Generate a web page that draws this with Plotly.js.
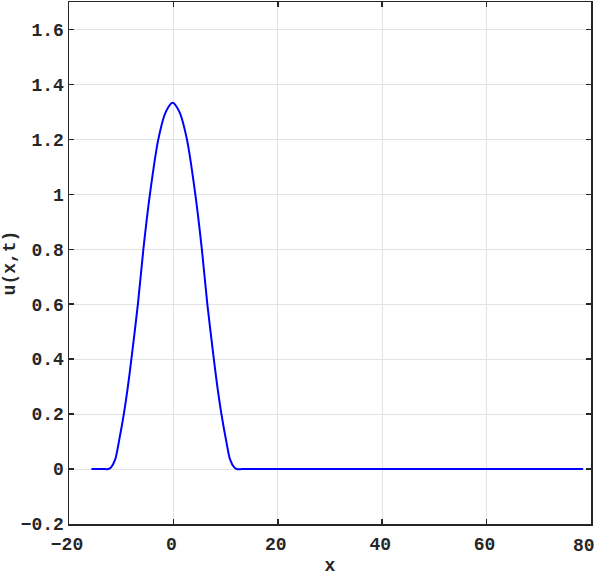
<!DOCTYPE html>
<html>
<head>
<meta charset="utf-8">
<script src="https://cdn.plot.ly/plotly-3.0.1.min.js"></script>
<style>
  html, body { margin: 0; padding: 0; background: white; }
  #plot { width: 598px; height: 576px; }
</style>
</head>
<body>
<div id="plot"></div>
<script>
/* u(x,t) profile, values */

const xVals = [-15.7, -13.5, -12.45, -11.95, -11.15, -10.37, -9.5, -8.72, -8.05, -6.8, -5.75,
  -4.5, -2.89, -1.45, -0.15,
  1.15, 2.59, 4.2, 5.45, 6.5, 7.75, 8.42, 9.2, 10.07, 10.85, 11.65, 12.15, 13.3, 78.5];
const uVals = [0, 0, 0, 0.006, 0.035, 0.107, 0.2, 0.3, 0.4, 0.6, 0.8,
  1.0, 1.2, 1.3, 1.333,
  1.3, 1.2, 1.0, 0.8, 0.6, 0.4, 0.3, 0.2, 0.107, 0.035, 0.006, 0, 0, 0];

// x tick labels; the last one is drawn as an annotation so it can be pulled inside the page
const xTickVals = [-20, 0, 20, 40, 60, 80];
const xTickText = ['\u221220', '0', '20', '40', '60', ''];
const lastTickText = '80';

const axisFont = {
  family: '"Liberation Mono", "Courier New", monospace',
  size: 18,
  color: '#262626',
  weight: 'bold',
};

let trace = {
  x: xVals,
  y: uVals,
  type: 'scatter',
  mode: 'lines',
  line: {
    color: '#0000ff',
    width: 2,
    shape: 'spline',
    smoothing: 0.8,
  },
  hoverinfo: 'skip',
};

let layout = {
  width: 598,
  height: 576,
  showlegend: false,
  plot_bgcolor: 'white',
  paper_bgcolor: 'white',
  margin: { l: 69, r: 7, t: 2, b: 52 },
  font: axisFont,
  xaxis: {
    range: [-20, 80],
    tickmode: 'array',
    tickvals: xTickVals,
    ticktext: xTickText,
    ticks: 'inside',
    ticklen: 5,
    tickwidth: 1.5,
    tickcolor: '#262626',
    showline: true,
    linecolor: '#262626',
    linewidth: 1.5,
    mirror: 'ticks',
    showgrid: true,
    gridcolor: '#e3e3e3',
    gridwidth: 1,
    zeroline: false,
    tickfont: axisFont,
    ticklabelshift: -2,
    ticklabelstandoff: 3,
    title: { text: 'x', font: axisFont, standoff: 22 },
  },
  yaxis: {
    range: [-0.2, 1.7],
    dtick: 0.2,
    tick0: 0,
    ticks: 'inside',
    ticklen: 5,
    tickwidth: 1.5,
    tickcolor: '#262626',
    showline: true,
    linecolor: '#262626',
    linewidth: 1.5,
    mirror: 'ticks',
    showgrid: true,
    gridcolor: '#e3e3e3',
    gridwidth: 1,
    zeroline: false,
    tickfont: axisFont,
    title: { text: 'u(x,t)', font: axisFont, standoff: 8 },
  },
  annotations: [{
    x: xTickVals[xTickVals.length - 1],
    xref: 'x',
    y: 0,
    yref: 'paper',
    yanchor: 'top',
    yshift: -10,
    xanchor: 'right',
    xshift: 6,
    text: lastTickText,
    showarrow: false,
    font: axisFont,
  }],
};

let config = {
  staticPlot: true,
  displayModeBar: false,
};

Plotly.newPlot('plot', [trace], layout, config);
</script>
</body>
</html>
